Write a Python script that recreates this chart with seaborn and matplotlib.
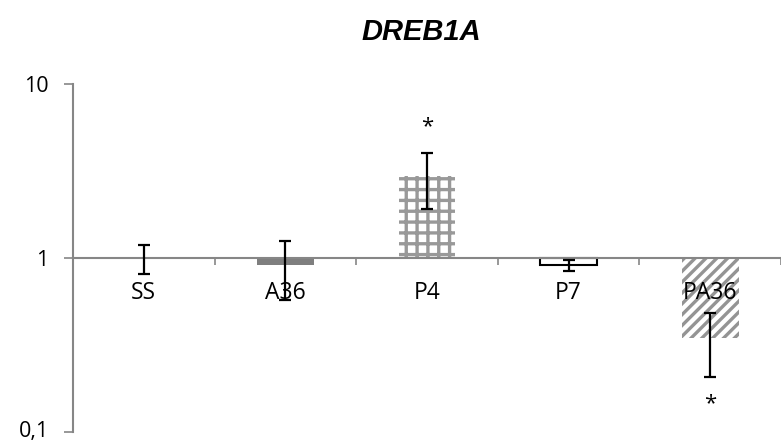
import numpy as np
import pandas as pd
import matplotlib
matplotlib.use("Agg")
import matplotlib.pyplot as plt
import matplotlib.transforms as mtransforms
import seaborn as sns

# ---- data ----
categories = ["SS", "A36", "P4", "P7", "PA36"]
means = [1.0, 0.91, 2.95, 0.91, 0.345]
errors = [0.19, 0.34, 1.05, 0.065, 0.138]
significant = [False, False, True, False, True]
ytick_values = [0.1, 1, 10]
ytick_labels = ["0,1", "1", "10"]
title = "DREB1A"

# ---- styles ----
DPI = 130
S = 100 / DPI  # sizes below are given as if at 100 dpi
face_colors = ["white", "#7f7f7f", "white", "white", "white"]
edge_colors = ["none", "#7f7f7f", "#999999", "black", "#949494"]
edge_widths = [0, 0, 0, 1.5 * S, 0]
hatches = [None, None, "++", None, "////"]
grey = "#868686"

sns.set_style("white")
plt.rcParams["font.family"] = ["Open Sans", "DejaVu Sans"]
plt.rcParams["hatch.linewidth"] = 2.4 * S
plt.rcParams["text.color"] = "black"
plt.rcParams["xtick.color"] = "black"
plt.rcParams["ytick.color"] = "black"
plt.rcParams["axes.axisbelow"] = False

df = pd.DataFrame({"category": categories, "log_value": np.log10(means)})

fig = plt.figure(figsize=(781 / DPI, 443 / DPI), dpi=DPI)
ax = fig.add_axes([73 / 781, 11 / 443, 708 / 781, 348 / 443])
ax.set_axisbelow(False)

sns.barplot(data=df, x="category", y="log_value", hue="category",
            palette=face_colors, width=0.4, errorbar=None, legend=False,
            saturation=1, ax=ax, zorder=2)

for patch, ec, lw, h in zip(ax.patches, edge_colors, edge_widths, hatches):
    patch.set_edgecolor(ec)
    patch.set_linewidth(lw)
    if h:
        patch.set_hatch(h)

m = np.array(means)
e = np.array(errors)
logm = np.log10(m)
lower = logm - np.log10(m - e)
upper = np.log10(m + e) - logm
x = np.arange(len(categories))
ax.errorbar(x, logm, yerr=[lower, upper], fmt="none", ecolor="black",
            elinewidth=1.6 * S, capsize=4.3 * S, capthick=1.6 * S, zorder=5)

for i, sig in enumerate(significant):
    if not sig:
        continue
    if means[i] >= 1:
        ax.annotate("*", xy=(i, np.log10(m[i] + e[i])), xytext=(0, 19 * S),
                    textcoords="offset points", ha="center", va="center",
                    fontsize=16 * S)
    else:
        ax.annotate("*", xy=(i, np.log10(m[i] - e[i])), xytext=(0, -19.5 * S),
                    textcoords="offset points", ha="center", va="center",
                    fontsize=16 * S)

ax.set_xlim(-0.5, -0.5 + 708 / 143.4)
ax.set_ylim(-1, 1)
ax.set_xlabel("")
ax.set_ylabel("")

for s in ["top", "right"]:
    ax.spines[s].set_visible(False)
ax.spines["left"].set_color(grey)
ax.spines["left"].set_linewidth(1.5 * S)
ax.spines["bottom"].set_color(grey)
ax.spines["bottom"].set_linewidth(1.5 * S)
ax.spines["bottom"].set_position(("data", 0))

ax.set_yticks(np.log10(ytick_values))
ax.set_yticklabels(ytick_labels)
ax.tick_params(axis="y", left=True, direction="out", length=6.5 * S,
               width=1.2 * S, color=grey, labelcolor="black", pad=11 * S,
               labelsize=15.5 * S)
ax.set_xticks(x)
ax.set_xticklabels(categories)
ax.tick_params(axis="x", which="major", bottom=True, length=0, pad=16.5 * S,
               labelcolor="black", labelsize=16.5 * S)
ax.set_xticks(np.arange(-0.5, len(categories), 1), minor=True)
ax.tick_params(axis="x", which="minor", bottom=True, direction="out",
               length=5 * S, width=1.2 * S, color=grey)

# nudge the lowest y label up slightly so it stays inside the figure
low_label = ax.get_yticklabels()[0]
low_label.set_transform(low_label.get_transform() +
                        mtransforms.ScaledTranslation(0, 2.5 / DPI,
                                                      fig.dpi_scale_trans))

fig.text(421 / 781, 1 - 32 / 443, title, ha="center", va="center",
         fontsize=21 * S, fontweight="bold", fontstyle="italic",
         family="Liberation Sans", color="black")

fig.savefig("out.png", dpi=DPI)
